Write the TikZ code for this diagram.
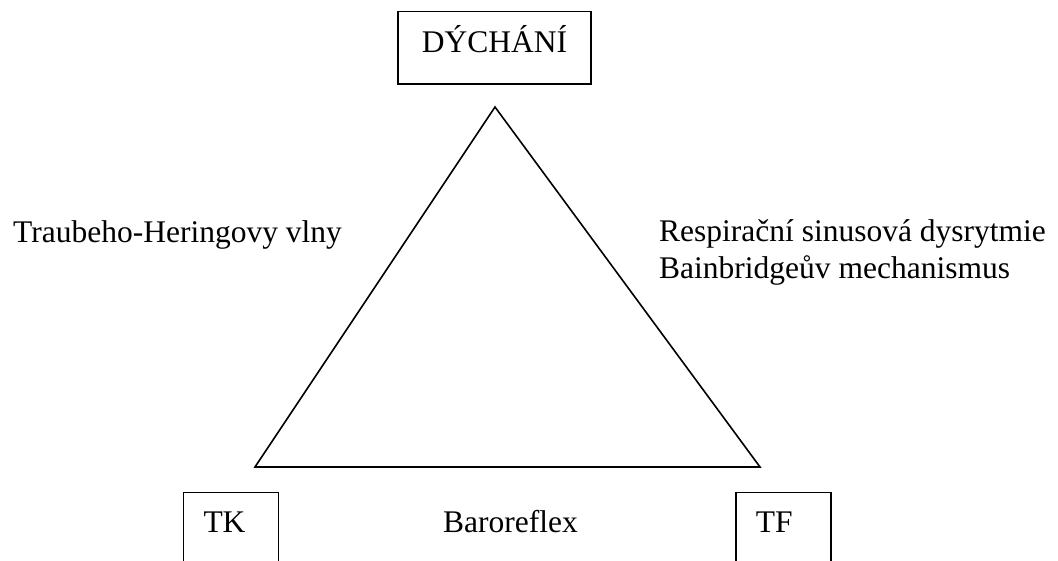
\documentclass[tikz,border=0pt]{standalone}
\usepackage{fontspec}
\setmainfont{Liberation Serif}
\usepackage{tikz}
\usetikzlibrary{positioning}
\tikzset{box/.style = {draw, line width = 1.6pt, inner sep = 0}}
\tikzset{lbl/.style = {inner sep = 0, anchor = base west}}
\tikzset{openbox/.style = {box, anchor = north, inner xsep = 20, inner ysep = 19,
                           text width = 55, align = left,
                           text height = 21, text depth = 100}}

\begin{document}
\begin{tikzpicture}[x=1pt, y=-1pt, font=\fontsize{31.5}{37}\selectfont]
    \useasboundingbox (0, 0) rectangle (1058, 561);
    \clip (0, 0) rectangle (1058, 561);

    \node [box, minimum width = 193, minimum height = 72.5,
           text height = 21, text depth = 11.5] (dych) at (494.5, 47.75) {DÝCHÁNÍ};

    \coordinate (apex) at (495, 107);
    \coordinate (baseL) at (255, 467);
    \coordinate (baseR) at (760, 467);
    \draw [line width = 1.6pt, line join = miter] (apex) -- (baseL) -- (baseR) -- cycle;

    \node [lbl] (traube) at (13, 243) {Traubeho-Heringovy vlny};
    \node [lbl] (resp) at (659, 242) {Respirační sinusová dysrytmie};
    \node [lbl] (bain) at (659, 279) {Bainbridgeův mechanismus};

    \node [openbox] (tk) at (231, 491.5) {TK};
    \node [openbox] (tf) at (783.25, 491.5) {TF};
    \node [lbl] (baro) at (443, 532) {Baroreflex};
  \end{tikzpicture}
\end{document}
